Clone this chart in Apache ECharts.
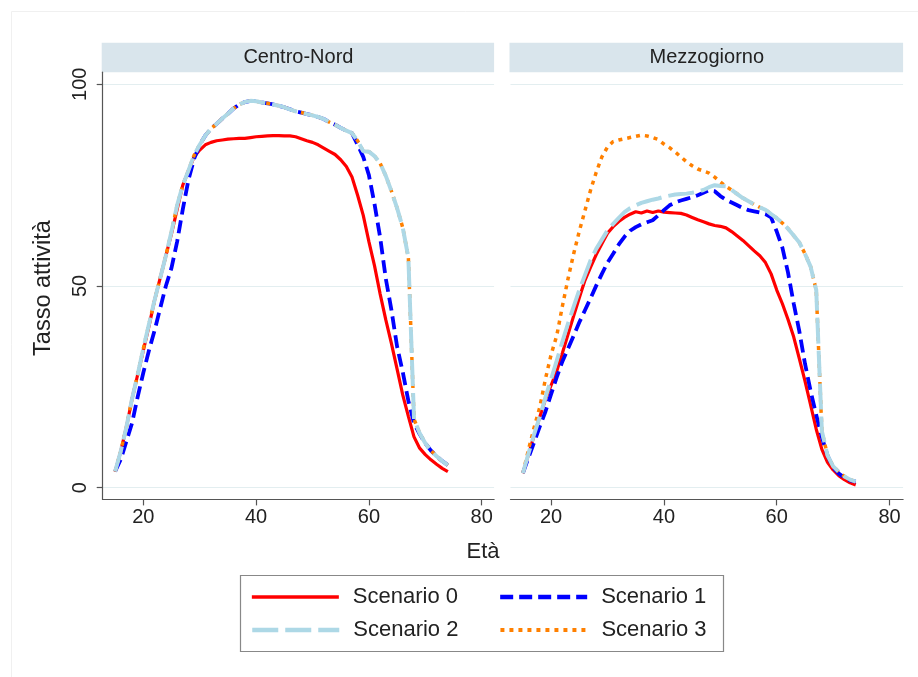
<!DOCTYPE html>
<html>
<head>
<meta charset="utf-8">
<script src="https://cdn.jsdelivr.net/npm/echarts@6/dist/echarts.min.js"></script>
<style>html,body{margin:0;padding:0;background:#fff;}#c{width:918px;height:677px;}</style>
</head>
<body>
<div id="c"></div>
<script>
const ages = [15,16,17,18,19,20,21,22,23,24,25,26,27,28,29,30,31,32,33,34,35,36,37,38,39,40,41,42,43,44,45,46,47,48,49,50,51,52,53,54,55,56,57,58,59,60,61,62,63,64,65,66,67,68,69,70,71,72,73,74];
const panels = ["Centro-Nord", "Mezzogiorno"];
const seriesNames = ["Scenario 0", "Scenario 1", "Scenario 2", "Scenario 3"];
const xTicks = [20, 40, 60, 80];
const yTicks = [0, 50, 100];
const xTitle = "Età";
const yTitle = "Tasso attività";

// Centro-Nord
const cn0 = [4,9,15,22,28,34,40,46.5,52,57.5,63,69,75,78.5,82,83.7,85,85.6,86,86.2,86.4,86.5,86.6,86.6,86.8,87,87.1,87.2,87.3,87.3,87.2,87.2,87,86.5,86,85.6,85,84.2,83.4,82.6,81.3,79.6,77,72.5,67.5,61,55,48,41.6,35.7,29.4,23,17.7,12.6,9.8,8.2,6.9,5.8,4.8,4];
const cn1 = [4,7,11.5,16,22.5,28.5,34,39,44.5,50,54.5,61,69,76.3,81.5,85,87.3,89,90.2,91.5,92.7,94,95,95.6,95.9,95.8,95.5,95.3,95,94.7,94.3,93.8,93.3,93,92.6,92.3,91.9,91.4,90.6,90,89.2,88.5,87.9,85,82,77.5,70.3,62,51.8,44,35,28.7,21.5,16,13.3,11,9.2,7.8,6.6,5.6];
const cn2 = [4,9,15,22,28,34.5,40.5,46.5,52,57.5,63.5,70,75,78.6,82.4,85,87.3,89,90.2,91.5,92.7,94,95,95.6,95.9,95.8,95.5,95.3,95,94.7,94.3,93.8,93.3,93,92.6,92.3,91.9,91.4,90.6,90,89.2,88.5,87.9,86,83.4,83.3,82.2,80.4,77.3,73.5,69.3,64.5,57,17,13.5,11,9.2,7.8,6.6,5.6];
const cn3 = [4,9,15,22,28,34.5,40.5,46.5,52,57.5,63.5,70,75,78.6,82.4,85,87.3,89,90.2,91.5,92.7,94,95,95.6,95.9,95.8,95.5,95.3,95,94.7,94.3,93.8,93.3,93,92.6,92.3,91.9,91.4,90.6,90,89.2,88.5,87.9,86,83.4,83.3,82.2,80.4,77.3,73.5,69.3,64.5,57,17,13.5,11,9.2,7.8,6.6,5.6];

// Mezzogiorno
const mz0 = [3.6,8.3,13,17.6,21.9,25.4,28.9,33.4,38,42.6,47.1,51.4,54.7,57.8,60.5,63.1,64.7,66,67,67.8,68.4,68.1,68.6,68.2,68.6,68.3,68.2,68.1,68,67.6,67,66.4,65.9,65.4,65,64.8,64.4,63.5,62.4,61.3,60,58.7,57.5,55.8,53,49,45.6,41.7,37.4,32,26.5,20.5,14.5,9.5,6.3,4.4,3,2,1.2,0.7];
const mz1 = [3.6,7.5,11.3,15.2,18.9,23.2,27.4,31.3,34.5,37.7,41,44,47,50.1,53,55.8,58,60.3,62.2,63.7,64.6,65.3,65.8,66.3,67.5,68.8,70,70.7,71.2,71.6,72,72.5,73.1,73.7,73.5,72.3,71.4,70.7,70,69.3,68.8,68.5,68.2,67.8,67,63.5,59.5,53.3,45.7,38.8,30.8,24,18,12.5,8,5,3.5,2.5,1.8,1.5];
const mz2 = [3.6,8.5,13.3,17.6,22.4,26.9,31.5,36.2,40.7,44.9,49,52.7,56.4,59.2,61.5,63.8,65.4,66.9,68.3,69.3,70,70.6,71,71.4,71.7,72.1,72.4,72.7,72.8,72.9,73.1,73.4,73.8,74.5,75,74.8,74.7,73.8,72.8,71.8,71,70.2,69.5,68.9,67.8,66.8,65.6,64.2,62.5,60.8,58,54.8,49,14,8,5.3,3.9,2.8,2,1.5];
const mz3 = [3.6,9.5,15,20,27,33,37.7,45,51.8,58,63.6,68.7,73.8,78.2,82,84.5,85.8,86.2,86.5,86.8,87.1,87.4,87.2,86.8,86.3,85.2,84.3,83.2,82,80.8,79.8,79,78.5,78,77,75.8,74.7,73.8,72.8,71.8,71,70.2,69.5,68.9,67.8,66.8,65.6,64.2,62.5,60.8,58,54.8,49,14,8,5.3,3.9,2.8,2,1.5];

const panelData = [[cn0, cn1, cn2, cn3], [mz0, mz1, mz2, mz3]];

const FONT = "'Liberation Sans', Arial, Helvetica, sans-serif";
const styles = [
  {color: '#ff0000', width: 3.2, type: 'solid', z: 2},
  {color: '#0000ff', width: 3.8, type: [13, 6], z: 3},
  {color: '#add8e6', width: 4, type: [26, 7], z: 5},
  {color: '#ff8000', width: 3.5, type: [4, 5], z: 4}
];

const gridPos = [
  {left: 102.7, top: 72.2, width: 391.4, height: 427.2, xmax: 82.2},
  {left: 510.5, top: 72.2, width: 392.6, height: 427.2, xmax: 82.4}
];

const grids = gridPos.map(g => ({left: g.left, top: g.top, width: g.width, height: g.height, containLabel: false}));
const xAxes = gridPos.map((g, i) => ({
  type: 'value', gridIndex: i, min: 12.8, max: g.xmax,
  axisLine: {show: true, onZero: false, lineStyle: {color: '#555', width: 1.2}},
  axisTick: {show: true, length: 6, customValues: xTicks, lineStyle: {color: '#555', width: 1.2}},
  axisLabel: {show: true, customValues: xTicks, fontFamily: FONT, fontSize: 20, color: '#222', margin: 8},
  splitLine: {show: false}
}));
const yAxes = gridPos.map((g, i) => ({
  type: 'value', gridIndex: i, min: -2.9, max: 103,
  axisLine: {show: i === 0, onZero: false, lineStyle: {color: '#555', width: 1.2}},
  axisTick: {show: i === 0, length: 6, customValues: yTicks, lineStyle: {color: '#555', width: 1.2}},
  axisLabel: {show: i === 0, customValues: yTicks, rotate: 90, fontFamily: FONT, fontSize: 20, color: '#222', margin: 12},
  splitLine: {show: true, lineStyle: {color: '#e3eef0', width: 1.2}}
}));

const series = [];
panelData.forEach((sets, p) => {
  sets.forEach((vals, k) => {
    const st = styles[k];
    series.push({
      type: 'line', name: seriesNames[k], xAxisIndex: p, yAxisIndex: p,
      data: ages.map((a, i) => [a, vals[i]]),
      symbol: 'none', smooth: false, z: st.z,
      lineStyle: {color: st.color, width: st.width, type: st.type, cap: 'butt'},
      itemStyle: {color: st.color},
      emphasis: {disabled: true}
    });
  });
});

const graphics = [
  {type: 'rect', shape: {x: 11.5, y: 11.5, width: 1000, height: 1000}, style: {fill: 'none', stroke: '#f0f0f0', lineWidth: 1}, silent: true, z: -10}
];
panels.forEach((name, i) => {
  const g = gridPos[i];
  graphics.push({type: 'rect', shape: {x: g.left - 1, y: 42.7, width: g.width + 1, height: 29.6}, style: {fill: '#d9e5ec'}, silent: true});
  graphics.push({type: 'text', x: g.left + g.width / 2, y: 57.5, style: {text: name, font: '20px ' + FONT, fill: '#222', align: 'center', verticalAlign: 'middle'}, silent: true});
});
graphics.push({type: 'text', x: 483, y: 552, style: {text: xTitle, font: '22px ' + FONT, fill: '#222', align: 'center', verticalAlign: 'middle'}, silent: true});
graphics.push({type: 'text', x: 44, y: 288, rotation: Math.PI / 2, style: {text: yTitle, font: '23.5px ' + FONT, fill: '#222', align: 'center', verticalAlign: 'middle'}, silent: true});
graphics.push({type: 'rect', shape: {x: 240.5, y: 575.5, width: 483, height: 76}, style: {fill: 'none', stroke: '#888', lineWidth: 1.2}, silent: true});

function legendItem(k) {
  const st = styles[k];
  return {name: seriesNames[k], itemStyle: {opacity: 0}, lineStyle: {width: st.width + 0.5, type: st.type, color: st.color}};
}
const legendCommon = {
  orient: 'horizontal', left: 250, itemWidth: 87, itemHeight: 14, itemGap: 40, padding: 0,
  selectedMode: false,
  itemStyle: {opacity: 0},
  textStyle: {fontFamily: FONT, fontSize: 22, color: '#222', padding: [0, 0, 0, 9], lineHeight: 24}
};

const option = {
  animation: false,
  backgroundColor: '#fff',
  grid: grids, xAxis: xAxes, yAxis: yAxes, series: series,
  legend: [
    Object.assign({}, legendCommon, {top: 585, data: [legendItem(0), legendItem(1)]}),
    Object.assign({}, legendCommon, {top: 618, data: [legendItem(2), legendItem(3)]})
  ],
  graphic: graphics
};

const chart = echarts.init(document.getElementById('c'), null, {renderer: 'canvas'});
chart.setOption(option);
</script>
</body>
</html>
